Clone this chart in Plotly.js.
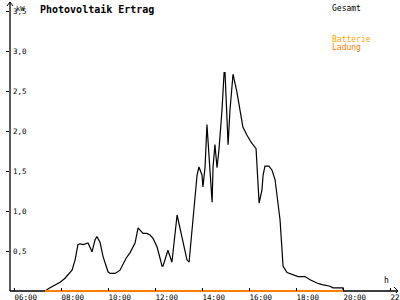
<!DOCTYPE html>
<html><head><meta charset="utf-8">
<script src="https://cdn.plot.ly/plotly-3.0.1.min.js"></script>
<style>body{margin:0;background:#fff}#c{width:400px;height:300px}</style>
</head><body><div id="c"></div>
<script>
// Time in decimal hours
const gesamtTime = [7.32,7.53,7.96,8.17,8.47,8.60,8.72,8.81,8.94,9.15,9.32,9.45,9.53,9.66,9.79,10.00,10.09,10.30,10.51,10.77,10.94,11.15,11.28,11.49,11.66,11.79,11.91,12.09,12.30,12.34,12.55,12.72,12.94,13.36,13.45,13.62,13.70,13.79,13.87,14.00,14.04,14.13,14.21,14.30,14.43,14.47,14.55,14.64,14.72,14.85,14.94,14.98,15.06,15.11,15.19,15.32,15.49,15.62,15.74,15.91,16.09,16.30,16.38,16.43,16.55,16.60,16.68,16.85,16.98,17.11,17.32,17.45,17.62,17.87,18.09,18.38,18.60,18.89,19.11,19.45,19.57,20.00,20.00];
const gesamtKW = [0,0.04,0.11,0.16,0.26,0.39,0.58,0.59,0.58,0.60,0.49,0.64,0.68,0.61,0.43,0.24,0.22,0.22,0.26,0.41,0.48,0.60,0.79,0.72,0.72,0.70,0.66,0.55,0.31,0.31,0.51,0.36,0.95,0.39,0.36,0.89,1.14,1.45,1.55,1.45,1.30,1.55,2.08,1.68,1.11,1.55,1.83,1.54,1.76,2.26,2.73,2.73,2.26,1.83,2.26,2.71,2.48,2.23,2.05,1.95,1.86,1.78,1.39,1.10,1.26,1.45,1.56,1.56,1.51,1.39,0.89,0.31,0.23,0.20,0.18,0.18,0.14,0.10,0.08,0.06,0.04,0.04,0];
const batterieTime = [7.32,20.00];
const batterieKW = [0,0];
const xTickVals = [6,8,10,12,14,16,18,20,22];
const xTickText = ['06:00','08:00','10:00','12:00','14:00','16:00','18:00','20:00','22:'];
const yTickVals = [0.5,1.0,1.5,2.0,2.5,3.0,3.5];
const yTickText = ['0,5','1,0','1,5','2,0','2,5','3,0','3,5'];

const xr = [5.83, 22.34], yr = [-0.025, 3.6125];
const axPos = 2/291;  // x axis sits at value 0
const mono = 'DejaVu Sans Mono';
const traces = [
  {x: gesamtTime, y: gesamtKW, mode:'lines', line:{color:'#000', width:1.2}, hoverinfo:'skip'},
  {x: batterieTime, y: batterieKW, mode:'lines', line:{color:'#ff8000', width:1.8}, hoverinfo:'skip'}
];
const layout = {
  width:400, height:300, margin:{l:10, r:2, t:2, b:7},
  paper_bgcolor:'#fff', plot_bgcolor:'#fff', showlegend:false,
  title:{text:'<b>Photovoltaik Ertrag</b>', font:{family:mono, size:10, color:'#000'}, xref:'container', yref:'container', x:0.1, xanchor:'left', y:0.967, yanchor:'middle'},
  xaxis:{range:xr, anchor:'free', position:axPos, showgrid:false, zeroline:false, showline:false, tickvals:xTickVals, ticktext:xTickText, ticks:'inside', ticklen:3, tickcolor:'#000', ticklabelposition:'outside right', ticklabeloverflow:'allow', ticklabelstandoff:0, tickfont:{family:mono, size:7.5, color:'#000'}, fixedrange:true},
  xaxis2:{range:xr, overlaying:'x', anchor:'free', position:axPos, showgrid:false, zeroline:false, showline:false, tickvals:xTickVals, ticks:'outside', ticklen:3, tickcolor:'#000', showticklabels:false},
  yaxis:{range:yr, showgrid:false, zeroline:false, showline:false, tickvals:yTickVals, ticktext:yTickText, ticks:'outside', ticklen:3, tickcolor:'#000', ticklabelposition:'inside', ticklabeloverflow:'allow', tickfont:{family:mono, size:7.5, color:'#000'}, fixedrange:true},
  yaxis2:{range:yr, overlaying:'y', anchor:'x', showgrid:false, zeroline:false, showline:false, tickvals:yTickVals, ticks:'inside', ticklen:3, tickcolor:'#000', showticklabels:false},
  shapes:[
    {type:'line', xref:'paper', yref:'y', x0:0, x1:1, y0:0, y1:0, line:{color:'#000', width:1.3}, layer:'below'},
    {type:'line', xref:'paper', yref:'paper', x0:0, x1:0, y0:axPos, y1:1, line:{color:'#000', width:1.3}, layer:'below'},
    {type:'line', xref:'paper', yref:'y', x0:1-4/388, x1:1, y0:0.05, y1:0, line:{color:'#000', width:1}},
    {type:'line', xref:'paper', yref:'y', x0:1-4/388, x1:1, y0:-0.05, y1:0, line:{color:'#000', width:1}},
    {type:'line', xref:'paper', yref:'paper', x0:-3/388, x1:0, y0:1-4/291, y1:1, line:{color:'#000', width:1}},
    {type:'line', xref:'paper', yref:'paper', x0:3/388, x1:0, y0:1-4/291, y1:1, line:{color:'#000', width:1}}
  ],
  annotations:[
    {text:'kW', xref:'paper', yref:'paper', x:4/388, y:1-1/291, xanchor:'left', yanchor:'top', showarrow:false, font:{family:mono, size:7, color:'#000'}},
    {text:'h', xref:'paper', yref:'paper', x:1-12/388, y:6/291, xanchor:'center', yanchor:'bottom', showarrow:false, font:{family:mono, size:8, color:'#000'}},
    {text:'Gesamt', xref:'paper', yref:'paper', x:(330-10)/388, y:1-0/291, xanchor:'left', yanchor:'top', showarrow:false, font:{family:mono, size:8, color:'#000'}},
    {text:'Batterie', xref:'paper', yref:'paper', x:(330-10)/388, y:1-31/291, xanchor:'left', yanchor:'top', showarrow:false, font:{family:mono, size:8, color:'#ffa500'}},
    {text:'Ladung', xref:'paper', yref:'paper', x:(330-10)/388, y:1-39/291, xanchor:'left', yanchor:'top', showarrow:false, font:{family:mono, size:8, color:'#ff8000'}}
  ]
};
Plotly.newPlot('c', traces, layout, {staticPlot:true, displayModeBar:false});
</script></body></html>
